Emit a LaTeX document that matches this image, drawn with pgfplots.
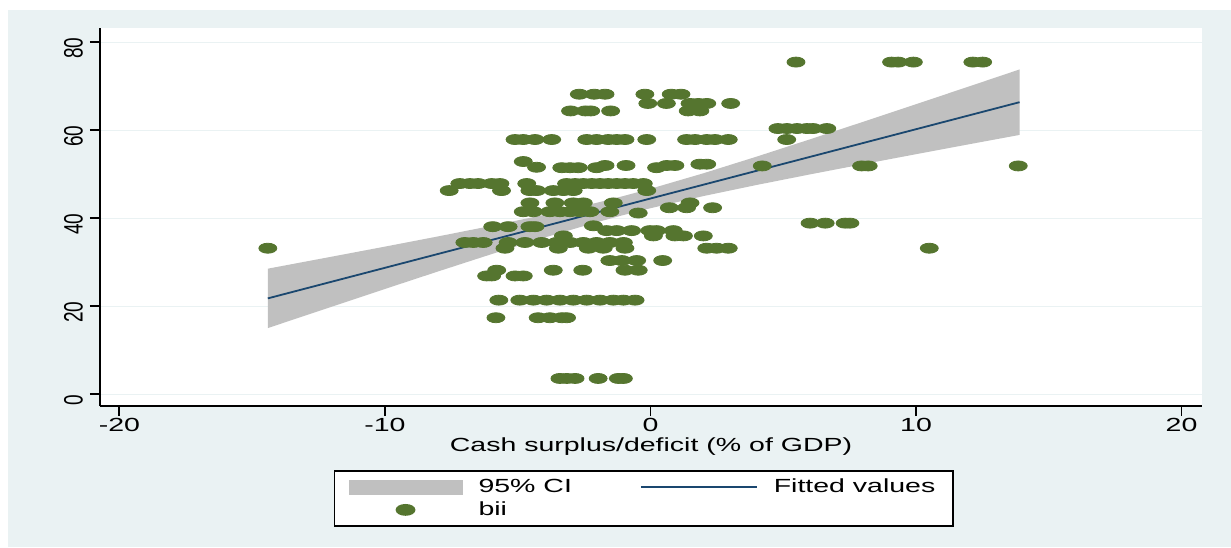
\documentclass[border=0pt]{standalone}
\usepackage{fontspec}
\setmainfont{Liberation Sans}[FakeStretch=1.5]
\newfontfamily\rotfont{Liberation Sans}
\usepackage{graphicx}
\usepackage{pgfplots}
\pgfplotsset{compat=1.18}
\usetikzlibrary{backgrounds}
\definecolor{statabg}{RGB}{234,242,243}
\definecolor{gridc}{RGB}{234,242,243}
\definecolor{cigray}{RGB}{192,192,192}
\definecolor{fitblue}{RGB}{26,71,111}
\definecolor{dotgreen}{RGB}{85,117,47}

\pgfplotstableread{
x y
5.48 75.5
9.08 75.5
9.33 75.5
9.90 75.5
12.14 75.5
12.51 75.5
-2.68 68.2
-2.12 68.2
-1.71 68.2
-0.21 68.2
0.78 68.2
1.15 68.2
-0.10 66.1
0.60 66.1
1.49 66.1
1.80 66.1
2.12 66.1
3.02 66.1
-3.01 64.4
-2.45 64.4
-2.25 64.4
-1.50 64.4
1.42 64.4
1.86 64.4
4.80 60.4
5.14 60.4
5.52 60.4
5.89 60.4
6.12 60.4
6.64 60.4
-5.10 57.9
-4.79 57.9
-4.35 57.9
-3.72 57.9
-2.40 57.9
-2.03 57.9
-1.59 57.9
-1.27 57.9
-0.96 57.9
-0.14 57.9
1.36 57.9
1.68 57.9
2.12 57.9
2.43 57.9
2.93 57.9
5.13 57.9
-4.79 52.9
-1.71 52.0
-0.92 52.0
0.61 52.0
0.92 52.0
1.86 52.3
2.12 52.3
-4.29 51.6
-3.34 51.5
-3.03 51.5
-2.72 51.5
-2.03 51.5
0.23 51.5
4.21 51.9
7.95 51.9
8.20 51.9
13.85 51.9
-7.18 47.9
-6.80 47.9
-6.49 47.9
-5.98 47.9
-5.67 47.9
-4.66 47.9
-3.16 47.9
-2.84 47.9
-2.53 47.9
-2.21 47.9
-1.90 47.9
-1.59 47.9
-1.27 47.9
-0.96 47.9
-0.65 47.9
-0.27 47.9
-7.58 46.3
-5.61 46.3
-4.54 46.3
-4.29 46.3
-3.66 46.3
-3.28 46.3
-2.91 46.3
-0.14 46.3
-4.54 43.5
-3.60 43.5
-2.91 43.5
-2.53 43.5
-1.40 43.5
1.49 43.5
0.71 42.4
1.36 42.4
2.34 42.4
-4.79 41.5
-4.41 41.5
-3.79 41.5
-3.41 41.5
-3.03 41.5
-2.66 41.5
-2.28 41.5
-1.53 41.5
-0.46 41.2
-5.94 38.1
-5.36 38.1
-4.54 38.1
-4.35 38.1
-2.15 38.3
6.01 38.9
6.58 38.9
7.33 38.9
7.51 38.9
-1.65 37.2
-1.27 37.2
-0.71 37.2
-0.02 37.2
0.23 37.2
0.86 37.2
-3.28 36.0
0.11 36.0
0.92 36.0
1.24 36.0
1.99 36.0
-6.99 34.5
-6.67 34.5
-6.30 34.5
-5.36 34.5
-4.73 34.5
-4.10 34.5
-3.53 34.5
-3.03 34.5
-2.53 34.5
-2.03 34.5
-1.53 34.5
-1.02 34.5
-14.41 33.2
-5.48 33.2
-3.47 33.2
-2.34 33.2
-1.78 33.2
-0.96 33.2
2.12 33.2
2.49 33.2
2.93 33.2
10.50 33.2
-1.53 30.4
-1.08 30.4
-0.52 30.4
0.46 30.4
-5.79 28.2
-3.66 28.2
-2.55 28.2
-0.96 28.2
-0.46 28.2
-6.17 26.9
-5.98 26.9
-5.10 26.9
-4.79 26.9
-5.71 21.4
-4.92 21.4
-4.41 21.4
-3.91 21.4
-3.41 21.4
-2.91 21.4
-2.40 21.4
-1.90 21.4
-1.40 21.4
-1.02 21.4
-0.58 21.4
-5.82 17.4
-4.23 17.4
-3.79 17.4
-3.34 17.4
-3.16 17.4
-3.41 3.6
-3.15 3.6
-2.84 3.6
-1.97 3.6
-1.21 3.6
-1.02 3.6
}\biidata

\begin{document}
\begin{tikzpicture}[font=\fontsize{9.5}{11}\selectfont]
\begin{axis}[
  at={(0pt,0pt)}, anchor=south west,
  scale only axis, width=551pt, height=189pt,
  xmin=-20.73, xmax=20.77, ymin=-2.66, ymax=83.25,
  axis x line*=bottom, axis y line*=left,
  axis line style={black, line width=0.9pt},
  xtick={-20,-10,0,10,20}, ytick={0,20,40,60,80},
  tick align=outside, major tick length=5pt,
  tick style={black, line width=0.9pt},
  ymajorgrids, grid style={gridc, line width=0.7pt},
  axis background/.style={fill=white},
  /pgf/number format/assume math mode=true,
  xticklabel style={yshift=2.5pt},
  yticklabel style={rotate=90, anchor=south, xshift=-3pt},
  yticklabel={\scalebox{1}[1.4]{\rotfont\pgfmathprintnumber{\tick}}},
  xlabel={Cash surplus/deficit (\% of GDP)},
  xlabel style={at={(axis description cs:0.5,0)}, anchor=center, yshift=-20.5pt},
  legend columns=2,
  legend cell align=left,
  legend style={at={(axis description cs:0.4936,-0.2447)}, anchor=center,
    draw=black, line width=0.9pt, fill=white,
    inner xsep=7pt, inner ysep=2pt, row sep=-1pt,
    /tikz/every odd column/.append style={column sep=6pt},
    /tikz/every even column/.append style={column sep=32pt}},
]
\addplot[fill=cigray, draw=none,
  legend image code/.code={\fill[cigray] (0pt,-3.75pt) rectangle (57pt,3.75pt);}]
  coordinates {
  (-14.41,28.55) (-12,31.28) (-10,33.56) (-8,35.88) (-6,38.27) (-4,40.79)
  (-2,43.56) (-1,45.09) (0,46.71) (2,50.24) (4,54.02) (6,57.93)
  (8,61.91) (10,65.93) (12,69.97) (13.9,73.83)
  (13.9,58.95) (12,56.83) (10,54.57) (8,52.29) (6,49.97) (4,47.58)
  (2,45.06) (0,42.29) (-1,40.77) (-2,39.14) (-4,35.61) (-6,31.83)
  (-8,27.92) (-10,23.94) (-12,19.92) (-14.41,15.05)
};
\addlegendentry{95\% CI}
\addplot[fitblue, line width=0.9pt, no markers,
  legend image code/.code={\draw[fitblue, line width=0.9pt] (0pt,0pt) -- (58pt,0pt);}]
  coordinates {(-14.41,21.80) (13.9,66.39)};
\addlegendentry{Fitted values}
\addplot[only marks, mark=*, mark size=2.5pt,
  mark options={xscale=1.8, fill=dotgreen, draw=dotgreen},
  legend image code/.code={\fill[dotgreen] (28.5pt,0pt) ellipse [x radius=4.5pt, y radius=2.5pt];}]
  table[x=x, y=y] {\biidata};
\addlegendentry{bii}
\end{axis}
\begin{pgfonlayer}{background}
\fill[white] (-50pt,-70.5pt) rectangle (565.5pt,203pt);
\fill[statabg] (-46pt,-70.5pt) rectangle (565.5pt,198pt);
\end{pgfonlayer}
\end{tikzpicture}
\end{document}
